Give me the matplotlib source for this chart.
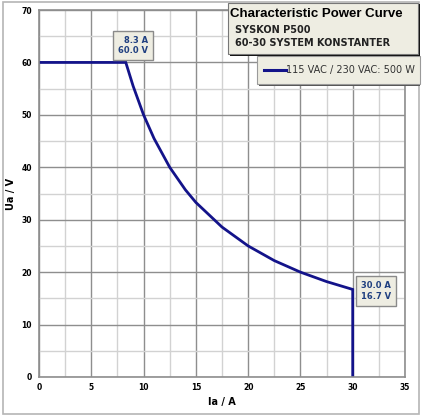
import numpy as np
import matplotlib.pyplot as plt
from matplotlib.patches import Rectangle
from matplotlib.lines import Line2D

# data
current = [0, 8.3, 9.0, 10.0, 11.0, 12.5, 14.0, 15.0, 17.5, 20.0, 22.5, 25.0, 27.5, 30.0, 30.0]
voltage = [60, 60.0, 55.5, 50.0, 45.5, 40.0, 35.7, 33.3, 28.6, 25.0, 22.2, 20.0, 18.2, 16.7, 0]
marks = [(8.3, 60.0), (30.0, 16.7)]
series_label = "115 VAC / 230 VAC: 500 W"
title = "Characteristic Power Curve"
subtitle = ["SYSKON P500", "60-30 SYSTEM KONSTANTER"]

navy = "#13138a"
beige = "#eeede2"
W, H = 425, 417

fig = plt.figure(figsize=(W / 100, H / 100), dpi=100)
fig.patch.set_facecolor("white")

def fx(px):
    return px / W

def fy(py):
    return 1 - py / H

# outer frame
fig.patches.append(Rectangle((fx(3), fy(414)), fx(419) - fx(3), fy(2) - fy(414),
                             transform=fig.transFigure, fill=False,
                             edgecolor="#b5b5b5", linewidth=1.2))

ax = fig.add_axes([fx(39), fy(377), fx(405) - fx(39), fy(10) - fy(377)])
ax.set_xlim(0, 35)
ax.set_ylim(0, 70)
ax.set_xticks(np.arange(0, 36, 5))
ax.set_yticks(np.arange(0, 71, 10))
ax.set_xticks(np.arange(0, 35, 2.5), minor=True)
ax.set_yticks(np.arange(0, 70, 5), minor=True)
ax.grid(which="major", color="#8e8e8e", linewidth=1.0)
ax.grid(which="minor", color="#d2d2d2", linewidth=1.0)
ax.set_axisbelow(True)
for s in ax.spines.values():
    s.set_color("#8e8e8e")
    s.set_linewidth(1.2)
ax.tick_params(which="both", length=0, labelsize=5.5)
ax.tick_params(axis="x", pad=4)
ax.tick_params(axis="y", pad=5)
for lab in ax.get_xticklabels() + ax.get_yticklabels():
    lab.set_fontweight("bold")
ax.set_xlabel("Ia / A", fontsize=7, fontweight="bold", labelpad=4)
ax.set_ylabel("Ua / V", fontsize=7, fontweight="bold", labelpad=4)

ax.plot(current, voltage, color=navy, linewidth=2.0, solid_joinstyle="miter")

# value boxes
ax.annotate("%.1f A\n%.1f V" % marks[0], xy=marks[0], xytext=(5, 5),
            textcoords="offset points", ha="center", va="bottom",
            fontsize=6, fontweight="bold", color="#1f3f80", multialignment="right",
            bbox=dict(boxstyle="square,pad=0.6", fc=beige, ec="#8a8a8a", lw=1.0))
ax.annotate("%.1f A\n%.1f V" % marks[1], xy=marks[1], xytext=(6, -1),
            textcoords="offset points", ha="left", va="center",
            fontsize=6, fontweight="bold", color="#1f3f80", multialignment="right",
            bbox=dict(boxstyle="square,pad=0.6", fc=beige, ec="#8a8a8a", lw=1.0))

# legend box
fig.patches.append(Rectangle((fx(259), fy(86)), fx(420) - fx(259), fy(56) - fy(86),
                             transform=fig.transFigure, facecolor="#555555",
                             edgecolor="none", zorder=5))
fig.patches.append(Rectangle((fx(257), fy(84)), fx(420) - fx(257), fy(56) - fy(84),
                             transform=fig.transFigure, facecolor=beige,
                             edgecolor="#9a9a9a", linewidth=0.8, zorder=6))
fig.lines.append(Line2D([fx(264), fx(286)], [fy(70), fy(70)], transform=fig.transFigure,
                        color=navy, linewidth=2.2, zorder=7))
fig.text(fx(286), fy(70), series_label, fontsize=7, color="#333333",
         va="center", ha="left", zorder=7)

# title box
fig.patches.append(Rectangle((fx(230), fy(56)), fx(420) - fx(230), fy(4) - fy(56),
                             transform=fig.transFigure, facecolor="#111111",
                             edgecolor="none", zorder=8))
fig.patches.append(Rectangle((fx(228), fy(54)), fx(418) - fx(228), fy(3) - fy(54),
                             transform=fig.transFigure, facecolor=beige,
                             edgecolor="#777777", linewidth=0.8, zorder=9))
fig.text(fx(230), fy(14), title, fontsize=9.5, fontweight="bold", color="black",
         va="center", ha="left", family=["Liberation Sans Narrow", "Liberation Sans"],
         zorder=10)
fig.text(fx(235), fy(30), subtitle[0], fontsize=7, fontweight="bold", color="#222222",
         va="center", ha="left", zorder=10)
fig.text(fx(235), fy(43), subtitle[1], fontsize=7, fontweight="bold", color="#222222",
         va="center", ha="left", zorder=10)

fig.savefig("out.png", dpi=100)
